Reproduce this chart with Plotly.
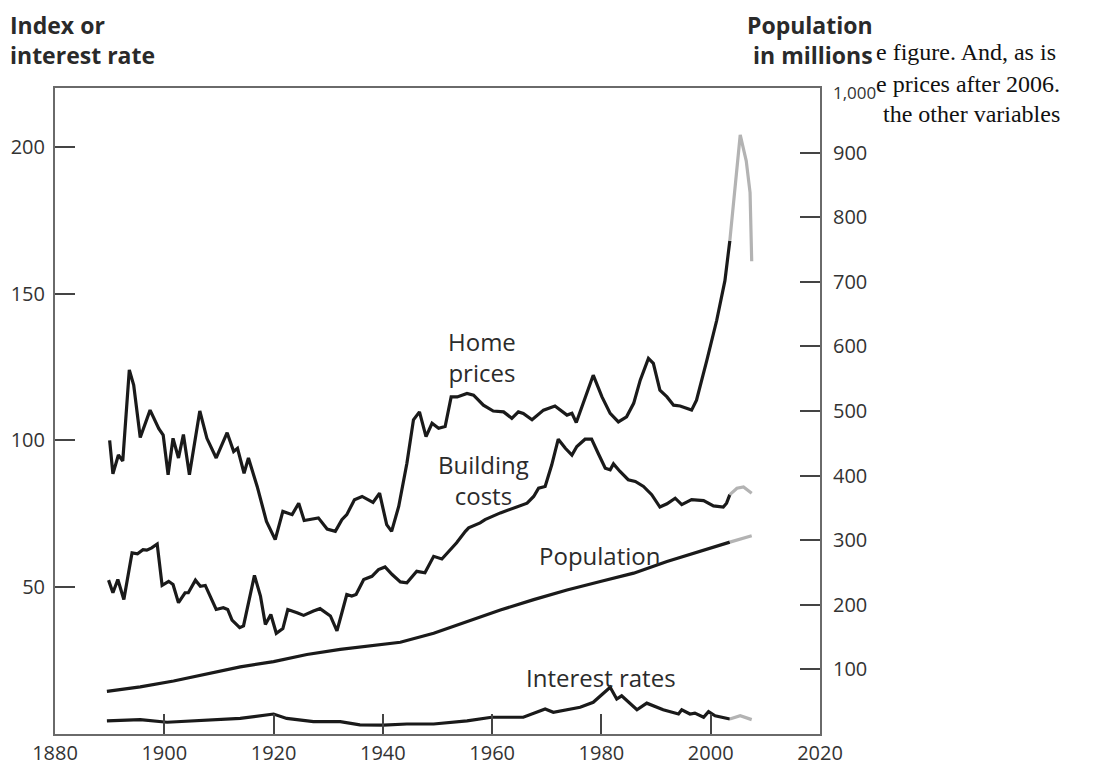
import plotly.graph_objects as go

# ---------------- data ----------------
hp_years = [1890, 1890.6, 1891.6, 1892.4, 1893.6, 1894.4, 1895.6, 1897.4, 1899, 1899.8,
            1900.7, 1901.6, 1902.6, 1903.5, 1904.6, 1906.5, 1907.8, 1909.5, 1911.5, 1912.7,
            1913.4, 1914.6, 1915.4, 1917, 1918.7, 1920.3, 1921.7, 1923.4, 1924.6, 1925.6,
            1928.2, 1929.8, 1931.3, 1932.5, 1933.4, 1934.8, 1936.2, 1938.2, 1939.4, 1940.7,
            1941.6, 1942.9, 1944.4, 1945.6, 1946.7, 1947.9, 1949, 1950.2, 1951.4, 1952.5,
            1953.6, 1955.4, 1956.6, 1958.4, 1960.2, 1962.1, 1963.6, 1964.8, 1965.7, 1967.3,
            1969.4, 1971.5, 1973.7, 1974.6, 1975.4, 1977, 1978.5, 1980.1, 1981.6, 1983.1,
            1984.6, 1985.9, 1987.1, 1988.6, 1989.5, 1990.7, 1992, 1993.2, 1994.4, 1996.5,
            1997.4, 1999.3, 2001.1, 2002.6, 2003.5]
hp_values = [100, 88.6, 95, 93, 124, 118.8, 101, 110.3, 104, 101.8,
             88.3, 100.7, 94, 102, 88.3, 110, 100.7, 94, 102.6, 96.2,
             97.3, 88.8, 94, 84.3, 72.4, 66.2, 75.8, 74.7, 78.6, 72.7,
             73.6, 69.8, 69, 73, 74.7, 79.8, 80.9, 78.9, 82, 71.3,
             69, 77.5, 92.2, 107, 109.7, 101.3, 105.8, 104.1, 104.7, 114.8,
             114.8, 116, 115.4, 112, 110, 109.7, 107.5, 109.7, 109.2, 107,
             110.3, 111.7, 108.6, 109.2, 106.1, 114.8, 122.2, 114.8, 109.2, 106.3,
             108, 112.6, 120.5, 127.9, 126.2, 117.1, 114.8, 112, 111.7, 110.3,
             113.7, 127.3, 140.9, 154.4, 168]
hp_ext_years = [2003.5, 2004.5, 2005.4, 2006.5, 2007.2, 2007.5]
hp_ext_values = [168, 188.4, 204, 195.2, 184.4, 161]

bc_years = [1889.8, 1890.6, 1891.5, 1892.6, 1894.1, 1895.1, 1896.1, 1896.8, 1897.7, 1898.7,
            1899.6, 1900.8, 1901.6, 1902.6, 1903.8, 1904.4, 1905.7, 1906.6, 1907.5, 1909.5,
            1910.8, 1911.6, 1912.4, 1913.8, 1914.5, 1916.5, 1917.6, 1918.5, 1919.5, 1920.5,
            1921.7, 1922.6, 1924.3, 1925.5, 1927.3, 1928.5, 1930.4, 1931.6, 1932.5, 1933.4,
            1934.3, 1935.1, 1936.5, 1938, 1939.2, 1940.4, 1941.7, 1943.2, 1944.4, 1946.2,
            1947.7, 1949.3, 1950.8, 1952.3, 1953.5, 1955.1, 1955.7, 1957.8, 1958.7, 1961.5,
            1963.9, 1966.4, 1967.6, 1968.5, 1969.7, 1970.9, 1972.1, 1973.4, 1974.6, 1975.5,
            1977, 1978.2, 1979.4, 1980.7, 1981.6, 1982.2, 1983.4, 1984.9, 1986.2, 1987.7,
            1989.2, 1990.7, 1992, 1993.5, 1994.7, 1996.5, 1998.7, 2000.5, 2002.3, 2002.9,
            2003.5]
bc_values = [52.4, 48.1, 52.6, 45.8, 61.7, 61.4, 62.8, 62.6, 63.4, 64.7,
             50.6, 52, 50.9, 44.7, 48.1, 48.1, 52.4, 50.3, 50.6, 42.4,
             43, 42.4, 38.8, 36.2, 36.8, 54, 47, 37.3, 40.7, 34.3,
             35.9, 42.4, 41.3, 40.4, 41.9, 42.7, 40.2, 35.1, 41.3, 47.5,
             47, 47.5, 52.6, 53.7, 56, 56.9, 54.3, 51.8, 51.5, 55.4,
             54.9, 60.5, 59.6, 62.8, 65.1, 69, 70.2, 71.9, 73, 75.3,
             77, 78.6, 80.9, 83.7, 84.3, 91.6, 100.4, 97.3, 95, 97.9,
             100.4, 100.4, 95.6, 90.5, 90, 92, 89.4, 86.6, 86, 84.3,
             81.5, 77.3, 78.4, 80.3, 78.1, 79.8, 79.5, 77.7, 77.3, 78.6,
             81.5]
bc_ext_years = [2003.5, 2004.8, 2006, 2007.5]
bc_ext_values = [81.5, 83.7, 84.1, 82]

pop_years = [1889.5, 1895.6, 1901.7, 1907.8, 1913.9, 1920, 1926.1, 1932.2, 1938.3, 1943.2,
             1949.3, 1955.4, 1961.5, 1967.6, 1973.7, 1979.8, 1985.9, 1992, 1998, 2003.5]
pop_values = [66, 73, 82, 93, 104, 112, 123, 131, 137, 142,
              156, 174, 192, 208, 223, 236, 249, 267, 283, 297]
pop_ext_years = [2003.5, 2007.5]
pop_ext_values = [297, 307]

ir_years = [1889.5, 1895.6, 1900.5, 1907.8, 1913.9, 1920, 1922.4, 1927.3, 1932.2, 1935.8,
            1940.1, 1944.4, 1949.3, 1955.4, 1959.9, 1965.7, 1969.7, 1971.2, 1976.1, 1978.5,
            1981.6, 1982.8, 1983.7, 1986.5, 1988.3, 1991.3, 1994.1, 1994.7, 1996.2, 1997.1,
            1998.7, 1999.6, 2000.8, 2003.5]
ir_values = [4.5, 4.9, 4.0, 4.75, 5.3, 6.8, 5.3, 4.2, 4.2, 3.1,
             3.0, 3.4, 3.4, 4.5, 5.7, 5.7, 8.5, 7.4, 9.1, 10.8,
             15.9, 11.9, 13, 8.25, 10.5, 8.25, 6.8, 8.25, 6.8, 7.1,
             5.7, 7.6, 6.2, 5.1]
ir_ext_years = [2003.5, 2005.4, 2007.5]
ir_ext_values = [5.1, 6.2, 4.9]

x_ticks = [1880, 1900, 1920, 1940, 1960, 1980, 2000, 2020]
left_ticks = [50, 100, 150, 200]
right_ticks = [100, 200, 300, 400, 500, 600, 700, 800, 900]
right_top_label = "1,000"

series_labels = ["Home<br>prices", "Building<br>costs", "Population", "Interest rates"]
label_pos = [(1958.1, 128.3), (1958.5, 86.5), (1979.7, 60.8), (1979.9, 19.2)]

page_lines = ["e figure. And, as is", "e prices after 2006.", "the other variables"]

# ---------------- figure ----------------
BLACK = "#1a1a1a"
GREY = "#b3b3b3"
LW = 3.2
TXT = "#2b2b2b"
AX = "#6a6a6a"

fig = go.Figure()

def add_line(xs, ys, color, yaxis="y"):
    fig.add_trace(go.Scatter(x=xs, y=ys, mode="lines", yaxis=yaxis,
                             line=dict(color=color, width=LW), hoverinfo="skip",
                             showlegend=False))

add_line(hp_years, hp_values, BLACK)
add_line(hp_ext_years, hp_ext_values, GREY)
add_line(bc_years, bc_values, BLACK)
add_line(bc_ext_years, bc_ext_values, GREY)
add_line(ir_years, ir_values, BLACK)
add_line(ir_ext_years, ir_ext_values, GREY)
add_line(pop_years, pop_values, BLACK, "y2")
add_line(pop_ext_years, pop_ext_values, GREY, "y2")

tickfont = dict(family="Open Sans", size=20, color="#333333")

fig.update_layout(
    width=1093, height=767,
    margin=dict(l=55, r=273, t=88, b=33),
    paper_bgcolor="white", plot_bgcolor="white",
    xaxis=dict(range=[1880, 2020], tickvals=x_ticks, ticktext=[str(v) for v in x_ticks],
               ticks="inside", ticklen=20, tickwidth=1.5, tickcolor="#444",
               showline=True, linecolor=AX, linewidth=2, mirror=True,
               showgrid=False, zeroline=False, tickfont=tickfont,
               ticklabelstandoff=0, automargin=False),
    yaxis=dict(range=[0, 220], tickvals=left_ticks, ticks="inside", ticklen=20,
               tickwidth=1.5, tickcolor="#444", showline=True, linecolor=AX, linewidth=2,
               showgrid=False, zeroline=False, tickfont=tickfont, ticklabelstandoff=4,
               automargin=False),
    yaxis2=dict(range=[0, 1000], tickvals=right_ticks, overlaying="y", side="right",
                ticks="inside", ticklen=20, tickwidth=1.5, tickcolor="#444",
                showline=True, linecolor=AX, linewidth=2, showgrid=False, zeroline=False,
                tickfont=tickfont, ticklabelstandoff=7, automargin=False),
)

ann = []
for txt, (lx, ly) in zip(series_labels, label_pos):
    ann.append(dict(x=lx, y=ly, xref="x", yref="y", text=txt, showarrow=False,
                    xanchor="center", yanchor="middle", align="center",
                    font=dict(family="Open Sans", size=24, color=TXT)))

def px_x(p):
    return (p - 55) / 765.0

def px_y(p):
    return (734 - p) / 646.0

title_font = dict(family="Open Sans", size=23, color="#2a2a2a", weight="bold")
ann.append(dict(x=px_x(8), y=px_y(40), xref="paper", yref="paper",
                text="Index or<br>interest rate", showarrow=False, align="left",
                xanchor="left", yanchor="middle", font=title_font))
ann.append(dict(x=px_x(875), y=px_y(40), xref="paper", yref="paper",
                text="Population<br>in millions", showarrow=False, align="right",
                xanchor="right", yanchor="middle", font=title_font))
ann.append(dict(x=px_x(831), y=px_y(93), xref="paper", yref="paper", text=right_top_label,
                showarrow=False, xanchor="left", yanchor="middle",
                font=dict(family="Open Sans", size=17, color="#333333")))
for txt, (sx, sy) in zip(page_lines, [(874, 52), (874, 84), (881, 114)]):
    ann.append(dict(x=px_x(sx), y=px_y(sy), xref="paper", yref="paper", text=txt,
                    showarrow=False, xanchor="left", yanchor="middle",
                    font=dict(family="Liberation Serif", size=24, color="#111111")))

fig.update_layout(annotations=ann)
fig.write_html("out.html", config={"displayModeBar": False},
               post_script="document.body.style.margin='0';document.body.style.padding='0';")
